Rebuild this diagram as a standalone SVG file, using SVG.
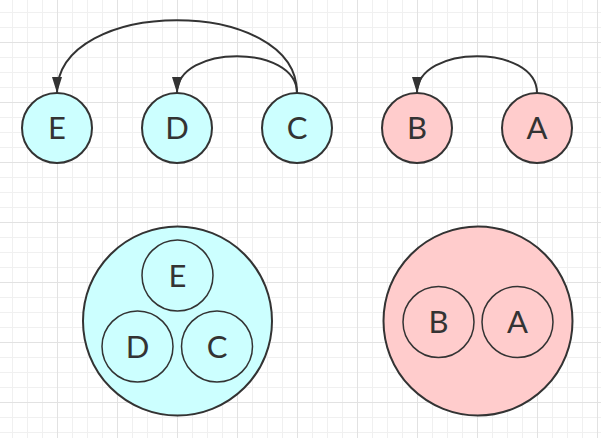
<svg xmlns="http://www.w3.org/2000/svg" width="601" height="438" viewBox="0 0 601 438">
<style>
.cy{fill:#ccffff;stroke:#333;stroke-width:2}
.pk{fill:#ffcccc;stroke:#333;stroke-width:2}
.in{fill:none;stroke:#333;stroke-width:1.5}
.t{font-family:Lato,"Liberation Sans",sans-serif;font-size:31px;fill:#333;text-anchor:middle}
.e{fill:none;stroke:#333;stroke-width:2}
</style>
<defs>
<pattern id="gm" width="15" height="15" patternUnits="userSpaceOnUse" x="12" y="12"><path d="M0 0.5H15M0.5 0V15" stroke="#f0f0f0" stroke-width="1"/></pattern>
<pattern id="gM" width="60" height="60" patternUnits="userSpaceOnUse" x="57" y="42"><path d="M0 0.5H60M0.5 0V60" stroke="#e2e2e2" stroke-width="1"/></pattern>
<marker id="ar" markerUnits="userSpaceOnUse" markerWidth="17" markerHeight="11" refX="16" refY="5.5" orient="auto"><path d="M0 0.5L16 5.5L0 10.5Z" fill="#333"/></marker>
</defs>
<rect width="601" height="438" fill="#fff"/>
<rect width="601" height="438" fill="url(#gm)"/>
<rect width="601" height="438" fill="url(#gM)"/>
<g id="connectors">
<path class="e" d="M297 93C297 -4 57 -4 57 93" marker-end="url(#ar)"/>
<path class="e" d="M297 93C297 44 177 44 177 93" marker-end="url(#ar)"/>
<path class="e" d="M537 93C537 44 417 44 417 93" marker-end="url(#ar)"/>
</g>
<g id="nE"><circle class="cy" cx="57" cy="128" r="35"/><text class="t" x="57" y="139">E</text></g>
<g id="nD"><circle class="cy" cx="177" cy="128" r="35"/><text class="t" x="177" y="139">D</text></g>
<g id="nC"><circle class="cy" cx="297" cy="128" r="35"/><text class="t" x="297" y="139">C</text></g>
<g id="nB"><circle class="pk" cx="417" cy="128" r="35"/><text class="t" x="417" y="139">B</text></g>
<g id="nA"><circle class="pk" cx="537" cy="128" r="35"/><text class="t" x="537" y="139">A</text></g>
<g id="groupEDC">
<circle class="cy" cx="177.5" cy="321" r="94.5"/>
<circle class="in" cx="177.5" cy="275.5" r="35.5"/><text class="t" x="177.5" y="286.5">E</text>
<circle class="in" cx="137.5" cy="346.5" r="35.5"/><text class="t" x="137.5" y="357.5">D</text>
<circle class="in" cx="217" cy="346.5" r="35.5"/><text class="t" x="217" y="357.5">C</text>
</g>
<g id="groupBA">
<circle class="pk" cx="478" cy="321" r="94.5"/>
<circle class="in" cx="438.5" cy="322" r="35.5"/><text class="t" x="438.5" y="333">B</text>
<circle class="in" cx="517.5" cy="322" r="35.5"/><text class="t" x="517.5" y="333">A</text>
</g>
</svg>
